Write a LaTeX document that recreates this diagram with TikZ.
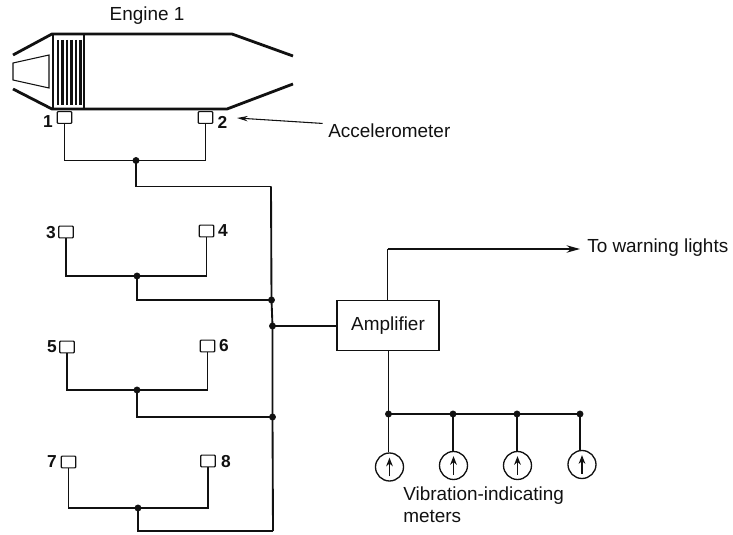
\documentclass[tikz,border=0pt]{standalone}
\usepackage{fontspec}
\setmainfont{Liberation Sans}
\usepackage{xcolor}
\usetikzlibrary{arrows.meta}
\definecolor{ink}{HTML}{111111}
\tikzset{
  wire/.style={draw=ink, line width=1.4pt},
  hull/.style={draw=ink, line width=2.1pt},
  thinline/.style={draw=ink, line width=0.8pt},
  sensor/.style={draw=ink, line width=0.9pt, fill=white, rounded corners=0.6pt, minimum width=10.8pt, minimum height=8.8pt, inner sep=0pt},
  joint/.style={circle, fill=ink, minimum size=5.2pt, inner sep=0pt},
  meter/.style={circle, draw=ink, line width=1pt, fill=white, minimum size=21pt, inner sep=0pt},
  ampbox/.style={draw=ink, line width=0.8pt, minimum width=76.5pt, minimum height=38pt, inner sep=0pt},
  lab/.style={text=ink, font=\fontsize{14.2}{16}\selectfont, inner sep=0pt},
  num/.style={text=ink, font=\fontsize{13}{14}\selectfont\bfseries, inner sep=0pt}
}

\begin{document}
\begin{tikzpicture}[x=0.75pt, y=-0.75pt]
  \useasboundingbox (0,0) rectangle (733,535);

  % engine
  \draw[hull] (13,55) -- (52,34) -- (232,34) -- (293,56);
  \draw[hull] (13,89) -- (52,109) -- (227,109) -- (293,84);
  \draw[thinline] (13,63) -- (49,55) -- (49,88) -- (13,80) -- cycle;
  \draw[thinline] (53,34) -- (53,109);
  \draw[thinline] (84,34) -- (84,109);
  \foreach \x in {58,62.5,67,71.5,76,80.5}
    \draw[draw=ink, line width=1.9pt] (\x,40) -- (\x,105);
  \node[lab] (engine) at (147,16) {Engine 1};

  % sensors
  \foreach \name/\x/\y in {s1/64.5/117.5, s2/205.5/117.5, s3/66/232, s4/206.5/231,
                           s5/67/347, s6/207.5/346, s7/68.5/462, s8/208/461}
    \node[sensor] (\name) at (\x,\y) {};

  \node[num] (n1) at (48,122) {1};
  \node[num] (n2) at (222.5,122) {2};
  \node[num] (n3) at (51,233) {3};
  \node[num] (n4) at (223,231) {4};
  \node[num] (n5) at (52,347) {5};
  \node[num] (n6) at (224,346) {6};
  \node[num] (n7) at (52,462) {7};
  \node[num] (n8) at (226,462) {8};

  % joints
  \node[joint] (j1) at (136,160.5) {};
  \node[joint] (j2) at (137,276) {};
  \node[joint] (j3) at (137,390) {};
  \node[joint] (j4) at (138,508) {};
  \coordinate (t1) at (271,186.5);
  \node[joint] (t2) at (271.5,300) {};
  \node[joint] (t3) at (272.5,326) {};
  \node[joint] (t4) at (272.5,417) {};
  \coordinate (t5) at (273,531);

  \draw[wire] (s1.south) |- (j1.center) -| (s2.south);
  \draw[wire] (s3.south) |- (j2.center) -| (s4.south);
  \draw[wire] (s5.south) |- (j3.center) -| (s6.south);
  \draw[wire] (s7.south) |- (j4.center) -| (s8.south);
  \draw[wire] (j1.center) |- (t1);
  \draw[wire] (j2.center) |- (t2.center);
  \draw[wire] (j3.center) |- (t4.center);
  \draw[wire] (j4.center) |- (t5);
  \draw[wire] (t1) -- (t2.center) -- (t3.center) -- (t4.center) -- (t5);

  % amplifier
  \node[ampbox] (amp) at (388,325.5) {};
  \node[lab] (amptext) at (388,325.5) {Amplifier};
  \draw[wire] (t3.center) -- (amp.west |- t3);
  \coordinate (bend) at (387.5,249);
  \node[lab, anchor=west] (lights) at (587,247.5) {To warning lights};
  \draw[wire] (amp.north -| bend) |- (bend);
  \draw[wire, -{Stealth[length=10pt, width=5.5pt]}] (bend) -- (580,249);

  % meters
  \node[joint] (b1) at (388.5,414) {};
  \node[joint] (b2) at (453,414) {};
  \node[joint] (b3) at (517,414) {};
  \node[joint] (b4) at (580,414) {};
  \node[meter] (m1) at (389.5,467) {};
  \node[meter] (m2) at (453.5,465.5) {};
  \node[meter] (m3) at (517.5,465.5) {};
  \node[meter] (m4) at (582,464.5) {};
  \draw[wire] (amp.south -| b1) -- (b1.center);
  \draw[wire] (b1.center) -- (b4.center);
  \draw[wire] (b1.center) -- (b1 |- m1.north);
  \draw[wire] (b2.center) -- (b2 |- m2.north);
  \draw[wire] (b3.center) -- (b3 |- m3.north);
  \draw[wire] (b4.center) -- (b4 |- m4.north);
  \foreach \m in {m1,m2,m3,m4}
    \draw[wire, -{Stealth[length=6.5pt, width=5pt]}] ([yshift=-7pt]\m.center) -- ([yshift=7pt]\m.center);
  \node[lab, anchor=base west] (vib) at (403,500) {Vibration-indicating};
  \node[lab, anchor=base west] (vib2) at (403,522) {meters};

  % callout
  \coordinate (tip) at (237,118);
  \node[lab, anchor=west] (accel) at (328,131) {Accelerometer};
  \draw[thinline, shorten <=4pt, -{Stealth[length=8pt, width=4pt]}] (accel.north west) -- (tip);
\end{tikzpicture}
\end{document}
